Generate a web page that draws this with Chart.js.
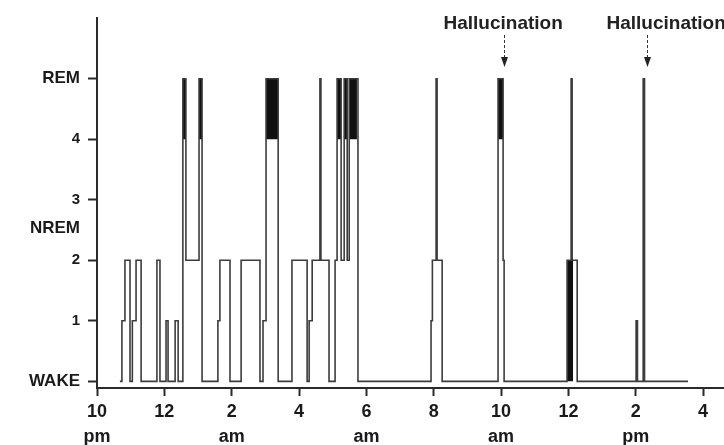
<!DOCTYPE html>
<html>
<head>
<meta charset="utf-8">
<script src="https://cdn.jsdelivr.net/npm/chart.js@4/dist/chart.umd.min.js"></script>
<style>
html, body { margin: 0; padding: 0; background: #fff; }
</style>
</head>
<body>
<canvas id="hipnograma" width="724" height="445"></canvas>
<script>
// Horas contadas desde la medianoche del primer dia: 22 = 10 pm, 36 = 12 mediodia, 40 = 4 pm
// Cada punto es un cambio de estado: en ese momento el sueño pasa a ese nivel (0 = WAKE, 5 = REM)
const stageTimes = [
    22.68, 22.74, 22.83, 22.98, 23.05, 23.16, 23.31, 23.78, 23.87, 24.05,
    24.11, 24.32, 24.41, 24.55, 24.64, 25.03, 25.12, 25.59, 25.65, 25.95,
    26.28, 26.84, 26.93, 27.02, 27.38, 27.79, 28.24, 28.30, 28.39, 28.62,
    28.65, 28.89, 29.07, 29.13, 29.25, 29.34, 29.43, 29.49, 29.75,
    31.92, 31.96, 32.07, 32.10, 32.25, 33.91, 34.06, 34.09, 35.96, 36.08,
    36.11, 36.26, 38.01, 38.05, 38.22, 38.26, 39.55
];
const stageValues = [
    0, 1, 2, 0, 1, 2, 0, 2, 0, 1,
    0, 1, 0, 5, 2, 5, 0, 1, 2, 0,
    2, 0, 1, 5, 0, 2, 0, 1, 2, 5,
    2, 0, 2, 5, 2, 5, 2, 5, 0,
    1, 2, 5, 2, 0, 5, 2, 0, 2, 5,
    2, 0, 1, 0, 5, 0, 0
];

// Bloques negros (periodos REM densos)
const blockStart = [24.55, 25.03, 27.02, 29.13, 29.34, 29.49, 33.91, 35.96];
const blockEnd   = [24.64, 25.12, 27.38, 29.25, 29.43, 29.72, 34.06, 36.14];
const blockLow   = [4, 4, 4, 4, 4, 4, 4, 0];
const blockHigh  = [5, 5, 5, 5, 5, 5, 5, 2];

// Alucinaciones
const hallucinationTimes = [34.09, 38.33];
const hallucinationText = "Hallucination";

// Ejes
const xTicks = [22, 24, 26, 28, 30, 32, 34, 36, 38, 40];
const xTickLabels = [["10", "pm"], ["12", ""], ["2", "am"], ["4", ""], ["6", "am"],
                     ["8", ""], ["10", "am"], ["12", ""], ["2", "pm"], ["4", ""]];
const yTicks = [0, 1, 2, 2.53, 3, 4, 5];
const yTickLabels = ["WAKE", "1", "2", "NREM", "3", "4", "REM"];

const colorLinea = "#3c3c3c";
const colorEje = "#2a2a2a";

const puntos = stageTimes.map((t, i) => ({ x: t, y: stageValues[i] }));

const datasets = [{
    label: "stage",
    data: puntos,
    stepped: "before",
    borderColor: colorLinea,
    borderWidth: 1.6,
    pointRadius: 0,
    fill: false
}];

// Un dataset relleno por cada bloque negro
blockStart.forEach((s, i) => {
    datasets.push({
        label: "block" + i,
        data: [{ x: s, y: blockHigh[i] }, { x: blockEnd[i], y: blockHigh[i] }],
        borderWidth: 0,
        borderColor: "rgba(0,0,0,0)",
        backgroundColor: "#111",
        pointRadius: 0,
        fill: { value: blockLow[i] }
    });
});

// Flechas y textos de alucinacion
const alucinaciones = {
    id: "alucinaciones",
    afterDraw(chart) {
        const ctx = chart.ctx;
        const xs = chart.scales.x;
        const desplazamientos = [-61, -41]; // donde empieza el texto respecto a la flecha
        ctx.save();
        hallucinationTimes.forEach((t, i) => {
            const px = Math.round(xs.getPixelForValue(t)) + 0.5;
            ctx.strokeStyle = "#333";
            ctx.lineWidth = 1;
            ctx.setLineDash([3, 2]);
            ctx.beginPath();
            ctx.moveTo(px, 35);
            ctx.lineTo(px, 58);
            ctx.stroke();
            ctx.setLineDash([]);
            ctx.fillStyle = "#222";
            ctx.beginPath();
            ctx.moveTo(px - 3.5, 57);
            ctx.lineTo(px + 3.5, 57);
            ctx.lineTo(px, 67);
            ctx.closePath();
            ctx.fill();
            ctx.font = "bold 19px 'Liberation Sans', Arial, sans-serif";
            ctx.textAlign = "left";
            ctx.textBaseline = "alphabetic";
            ctx.fillText(hallucinationText, px + desplazamientos[i], 29);
        });
        ctx.restore();
    }
};

new Chart(document.getElementById("hipnograma").getContext("2d"), {
    type: "line",
    data: { datasets: datasets },
    options: {
        responsive: false,
        animation: false,
        devicePixelRatio: 1,
        layout: { padding: { top: 10, right: 0, left: 0, bottom: 0 } },
        plugins: {
            legend: { display: false },
            tooltip: { enabled: false }
        },
        scales: {
            x: {
                type: "linear",
                min: 22,
                max: 40.62,
                afterBuildTicks: (scale) => { scale.ticks = xTicks.map(v => ({ value: v })); },
                afterFit: (scale) => { scale.height = 57; },
                border: { display: true, color: colorEje, width: 2 },
                grid: {
                    drawOnChartArea: false,
                    drawTicks: true,
                    tickLength: 8,
                    tickWidth: 2,
                    tickColor: colorEje
                },
                ticks: {
                    autoSkip: false,
                    maxRotation: 0,
                    padding: 3,
                    color: "#1a1a1a",
                    font: { family: "'Liberation Sans', Arial, sans-serif", size: 18, weight: "bold", lineHeight: 1.42 },
                    callback: (v) => {
                        const i = xTicks.indexOf(v);
                        return i >= 0 ? xTickLabels[i] : "";
                    }
                }
            },
            y: {
                type: "linear",
                min: -0.11,
                max: 6.0,
                afterBuildTicks: (scale) => { scale.ticks = yTicks.map(v => ({ value: v })); },
                afterFit: (scale) => { scale.width = 97; },
                border: { display: true, color: colorEje, width: 2 },
                grid: {
                    drawOnChartArea: false,
                    drawTicks: true,
                    tickLength: 9,
                    tickWidth: 2,
                    tickColor: (c) => (c.tick && c.tick.value === 2.53) ? "rgba(0,0,0,0)" : colorEje
                },
                ticks: {
                    autoSkip: false,
                    padding: 8,
                    color: "#1a1a1a",
                    font: (c) => {
                        const v = c.tick ? c.tick.value : 0;
                        const esTexto = v === 0 || v === 5 || v === 2.53;
                        return { family: "'Liberation Sans', Arial, sans-serif", size: esTexto ? 17 : 15, weight: "bold" };
                    },
                    callback: (v) => {
                        const i = yTicks.indexOf(v);
                        return i >= 0 ? yTickLabels[i] : "";
                    }
                }
            }
        }
    },
    plugins: [alucinaciones]
});
</script>
</body>
</html>
